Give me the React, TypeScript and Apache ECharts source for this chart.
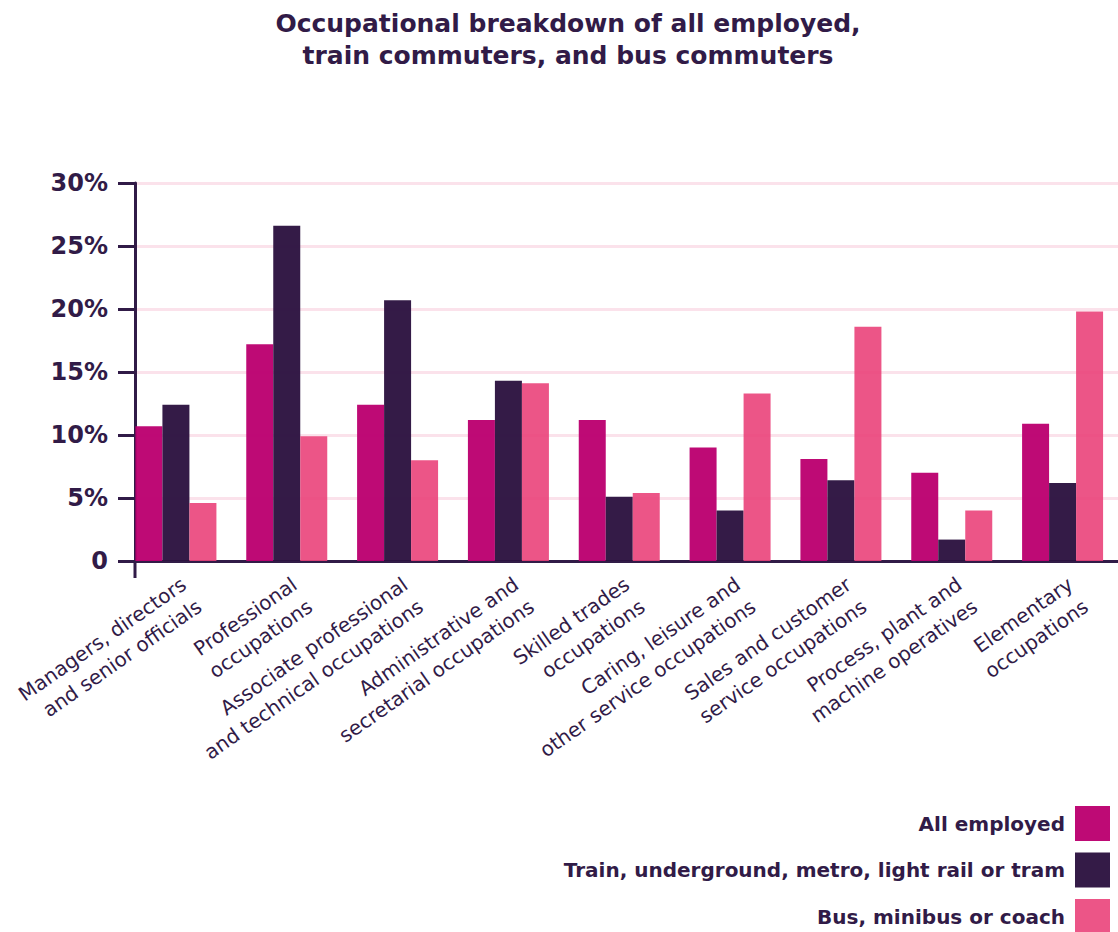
import React, { useEffect, useRef } from "react";
import * as echarts from "echarts";

const categories = [
  "Managers, directors\nand senior officials",
  "Professional\noccupations",
  "Associate professional\nand technical occupations",
  "Administrative and\nsecretarial occupations",
  "Skilled trades\noccupations",
  "Caring, leisure and\nother service occupations",
  "Sales and customer\nservice occupations",
  "Process, plant and\nmachine operatives",
  "Elementary\noccupations",
];

const seriesNames = [
  "All employed",
  "Train, underground, metro, light rail or tram",
  "Bus, minibus or coach",
];

const allEmployed = [10.7, 17.2, 12.4, 11.2, 11.2, 9.0, 8.1, 7.0, 10.9];
const trainCommuters = [12.4, 26.6, 20.7, 14.3, 5.1, 4.0, 6.4, 1.7, 6.2];
const busCommuters = [4.6, 9.9, 8.0, 14.1, 5.4, 13.3, 18.6, 4.0, 19.8];

const yTicks = [0, 5, 10, 15, 20, 25, 30];

const TEXT = "#311b47";
const FONT = "'DejaVu Sans', 'Noto Sans', sans-serif";

export default function App() {
  const ref = useRef<HTMLDivElement>(null);

  useEffect(() => {
    if (!ref.current) return;
    const chart = echarts.init(ref.current, undefined, { renderer: "svg" });
    const colors = ["#bb006f", "#2c1240", "#ea427a"];
    const opac = [0.96, 0.96, 0.9];
    const data = [allEmployed, trainCommuters, busCommuters];
    chart.setOption({
      animation: false,
      backgroundColor: "#ffffff",
      textStyle: { fontFamily: FONT },
      title: {
        text: "Occupational breakdown of all employed,\ntrain commuters, and bus commuters",
        left: 568,
        top: 7,
        padding: 0,
        textAlign: "center",
        textStyle: {
          fontFamily: FONT,
          fontSize: 25,
          fontWeight: 600,
          lineHeight: 32,
          color: TEXT,
        },
      },
      legend: {
        orient: "vertical",
        right: 8,
        top: 806,
        height: 200,
        align: "right",
        itemWidth: 35,
        itemHeight: 35,
        itemGap: 11.5,
        padding: 0,
        icon: "rect",
        data: seriesNames,
        textStyle: {
          fontFamily: FONT,
          fontSize: 20,
          fontWeight: 600,
          color: TEXT,
          padding: [0, 5, 0, 0],
        },
        selectedMode: false,
      },
      grid: {
        left: 120.5,
        right: -19.5,
        top: 183,
        bottom: 932 - 561,
      },
      xAxis: {
        type: "category",
        data: categories,
        offset: 2,
        axisLine: { show: true, lineStyle: { color: TEXT, width: 3 } },
        axisTick: { show: false },
        axisLabel: {
          interval: 0,
          rotate: 35,
          align: "right",
          verticalAlign: "top",
          margin: 8,
          fontFamily: FONT,
          fontSize: 20,
          lineHeight: 27,
          color: TEXT,
        },
        splitLine: { show: false },
      },
      yAxis: {
        type: "value",
        min: yTicks[0],
        max: yTicks[yTicks.length - 1],
        interval: 5,
        offset: -14.5,
        axisLine: { show: true, lineStyle: { color: TEXT, width: 3 } },
        axisTick: { show: true, length: 17, lineStyle: { color: TEXT, width: 3 } },
        axisLabel: {
          margin: 27,
          fontFamily: FONT,
          fontSize: 24,
          fontWeight: 600,
          color: TEXT,
          formatter: (v: number) => (v === 0 ? "0" : v + "%"),
        },
        splitLine: { show: true, lineStyle: { color: "#fbe2eb", width: 3 } },
      },
      graphic: [
        {
          type: "line",
          shape: { x1: 135, y1: 562, x2: 135, y2: 578 },
          style: { stroke: TEXT, lineWidth: 3 },
          z: 10,
        },
      ],
      series: seriesNames.map((name, i) => ({
        name,
        type: "bar",
        data: data[i],
        barWidth: 27,
        barGap: "0%",
        itemStyle: { color: colors[i], opacity: opac[i] },
      })),
    });
    return () => chart.dispose();
  }, []);

  return (
    <div
      ref={ref}
      style={{
        position: "absolute",
        left: 0,
        top: 0,
        width: 1118,
        height: 932,
        overflow: "hidden",
        background: "#fff",
      }}
    />
  );
}
